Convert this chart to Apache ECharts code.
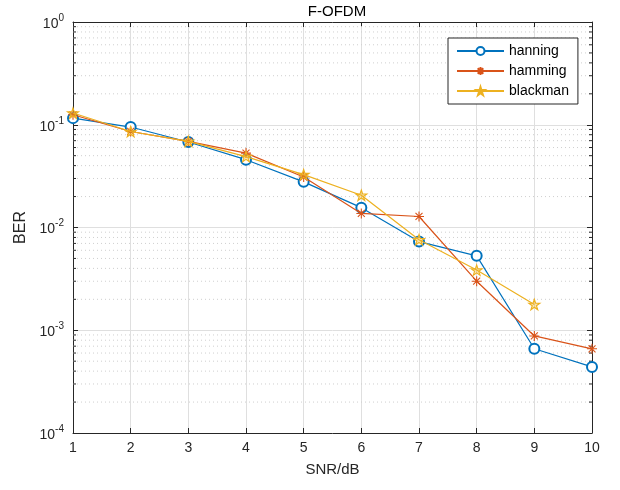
<!DOCTYPE html>
<html><head><meta charset="utf-8">
<script src="https://cdn.jsdelivr.net/npm/echarts@6/dist/echarts.min.js"></script>
<style>html,body{margin:0;padding:0;background:#fff}#c{width:620px;height:490px}</style>
</head><body><div id="c"></div>
<script>
var snr = [1,2,3,4,5,6,7,8,9,10];
var hanning  = [0.116,0.095,0.068,0.0457,0.0278,0.0156,0.0073,0.0053,0.00066,0.00044];
var hamming  = [0.125,0.086,0.069,0.053,0.031,0.0137,0.0128,0.0030,0.00088,0.00066];
var blackman = [0.130,0.086,0.069,0.049,0.0327,0.0206,0.0076,0.00385,0.00178];
var seriesNames = ['hanning','hamming','blackman'];
var yTicks = [1e-4,1e-3,1e-2,1e-1,1];
var minorMantissa = [2,3,4,5,6,7,8,9];

var C1='#0072BD', C2='#D95319', C3='#EDB120', AX='#262626';
var FONT='Liberation Sans, Arial, sans-serif';
var asterisk='path://M0,-10L0,10M-10,0L10,0M-7,-7L7,7M-7,7L7,-7';
var pentagram='path://M0,-10L2.245,-3.09L9.51,-3.09L3.633,1.18L5.88,8.09L0,3.82L-5.88,8.09L-3.633,1.18L-9.51,-3.09L-2.245,-3.09Z';

var minorVals=[];
for (var k=0;k<yTicks.length-1;k++) for (var m=0;m<minorMantissa.length;m++) minorVals.push([1, yTicks[k]*minorMantissa[m]]);

function pairs(arr){ return arr.map(function(v,i){return [snr[i],v];}); }

var chart = echarts.init(document.getElementById('c'), null, {renderer:'canvas'});
var axisCommon = {
  axisLine:{show:true,lineStyle:{color:AX,width:1}},
  axisTick:{show:true,inside:true,length:5,lineStyle:{color:AX}},
};
chart.setOption({
  backgroundColor:'#fff',
  animation:false,
  title:{text:'F-OFDM',left:332,top:-1,textAlign:'center',textStyle:{fontFamily:FONT,fontSize:15,fontWeight:'normal',color:'#000'}},
  grid:{left:73,right:28,top:22,bottom:57,containLabel:false},
  legend:{
    orient:'vertical',left:448,top:38,data:seriesNames,
    backgroundColor:'#fff',borderColor:AX,borderWidth:1,padding:[6,9,6,8],
    itemWidth:47,itemHeight:10,itemGap:6,
    textStyle:{fontFamily:FONT,fontSize:14,color:'#000'}
  },
  xAxis:[
    Object.assign({type:'value',min:1,max:10,interval:1,position:'bottom',
      axisLabel:{fontFamily:FONT,fontSize:14,color:AX,margin:8},
      splitLine:{show:true,lineStyle:{color:'#dfdfdf',width:1}},
      name:'SNR/dB',nameLocation:'middle',nameGap:29,
      nameTextStyle:{fontFamily:FONT,fontSize:15,color:AX}},axisCommon),
    Object.assign({type:'value',min:1,max:10,interval:1,position:'top',
      axisLabel:{show:false},splitLine:{show:false}},axisCommon)
  ],
  yAxis:[
    Object.assign({type:'log',logBase:10,min:1e-4,max:1,position:'left',
      axisLabel:{fontFamily:FONT,color:AX,margin:9,
        formatter:function(v){var e=Math.round(Math.log10(v));return '{b|10}{s|'+e+'}';},
        rich:{b:{fontFamily:FONT,fontSize:14,color:AX,verticalAlign:'bottom'},s:{fontFamily:FONT,fontSize:10,color:AX,verticalAlign:'top',padding:[0,0,8,0]}}},
      splitLine:{show:true,lineStyle:{color:'#dfdfdf',width:1}},
      name:'BER',nameLocation:'middle',nameGap:42,
      nameTextStyle:{fontFamily:FONT,fontSize:16,color:AX}},axisCommon),
    Object.assign({type:'log',logBase:10,min:1e-4,max:1,position:'right',
      axisLabel:{show:false},splitLine:{show:false}},axisCommon)
  ],
  series:[
    {type:'custom',name:'minor',silent:true,data:minorVals,z:1,clip:false,
      renderItem:function(params,api){
        var cs=params.coordSys; var y=api.coord([1,api.value(1)])[1];
        return {type:'group',children:[
          {type:'line',shape:{x1:cs.x,y1:y,x2:cs.x+cs.width,y2:y},style:{stroke:'#cfcfcf',lineWidth:1,lineDash:[1,3]}},
          {type:'line',shape:{x1:cs.x,y1:y,x2:cs.x+3,y2:y},style:{stroke:AX,lineWidth:1}},
          {type:'line',shape:{x1:cs.x+cs.width-3,y1:y,x2:cs.x+cs.width,y2:y},style:{stroke:AX,lineWidth:1}}
        ]};
      }},
    {type:'line',name:'hanning',data:pairs(hanning),symbol:'emptyCircle',symbolSize:10,
      lineStyle:{color:C1,width:1.2},itemStyle:{color:C1,borderColor:C1,borderWidth:1.1},z:3},
    {type:'line',name:'hamming',data:pairs(hamming),symbol:asterisk,symbolSize:10,symbolKeepAspect:true,
      lineStyle:{color:C2,width:1.2},itemStyle:{color:'rgba(0,0,0,0)',borderColor:C2,borderWidth:1.1},z:4},
    {type:'line',name:'blackman',data:pairs(blackman),symbol:pentagram,symbolSize:11,symbolKeepAspect:true,
      lineStyle:{color:C3,width:1.2},itemStyle:{color:'rgba(237,177,32,0.35)',borderColor:C3,borderWidth:1.1},z:5}
  ]
});
</script></body></html>
